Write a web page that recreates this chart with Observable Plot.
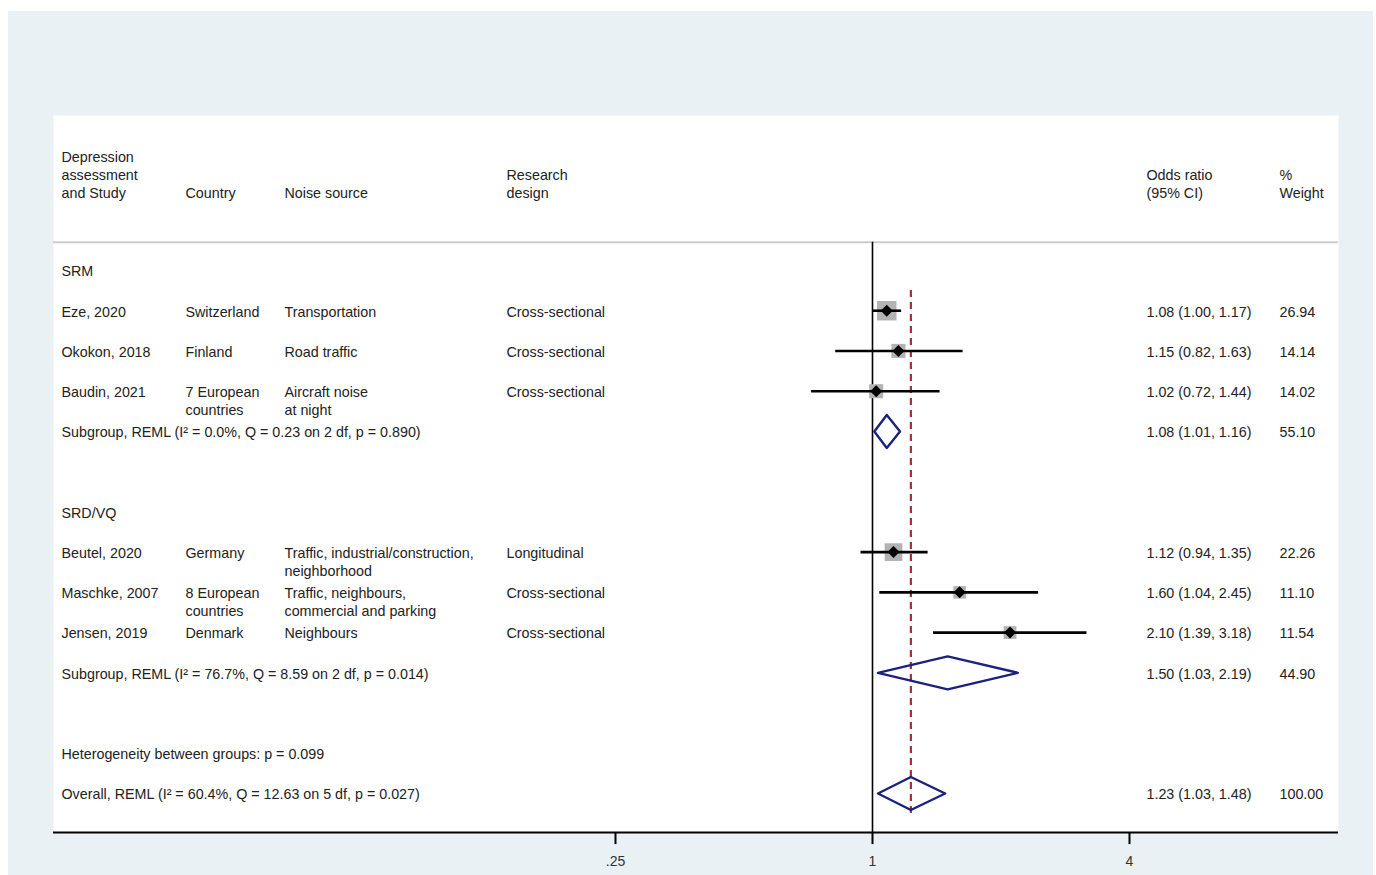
<!DOCTYPE html>
<html>
<head>
<meta charset="utf-8">
<script src="https://cdn.jsdelivr.net/npm/d3@7"></script>
<script src="https://cdn.jsdelivr.net/npm/@observablehq/plot@0.6"></script>
<style>
  html, body { margin: 0; padding: 0; background: #ffffff; }
  #chart { position: absolute; left: 8px; top: 11px; }
</style>
</head>
<body>
<div id="chart"></div>
<script>
// ---- Individual studies ----
const studies   = ["Eze, 2020", "Okokon, 2018", "Baudin, 2021", "Beutel, 2020", "Maschke, 2007", "Jensen, 2019"];
const countries = ["Switzerland", "Finland", "7 European\ncountries", "Germany", "8 European\ncountries", "Denmark"];
const sources   = ["Transportation", "Road traffic", "Aircraft noise\nat night",
                   "Traffic, industrial/construction,\nneighborhood",
                   "Traffic, neighbours,\ncommercial and parking", "Neighbours"];
const designs   = ["Cross-sectional", "Cross-sectional", "Cross-sectional", "Longitudinal", "Cross-sectional", "Cross-sectional"];
const oddsRatio = [1.08, 1.15, 1.02, 1.12, 1.60, 2.10];
const lowerCI   = [1.00, 0.82, 0.72, 0.94, 1.04, 1.39];
const upperCI   = [1.17, 1.63, 1.44, 1.35, 2.45, 3.18];
const weights   = [26.94, 14.14, 14.02, 22.26, 11.10, 11.54];
const studyRows = [1, 2, 3, 7, 8, 9];

// ---- Pooled estimates ----
const summaryLabels = [
  "Subgroup, REML (I\u00B2 = 0.0%, Q = 0.23 on 2 df, p = 0.890)",
  "Subgroup, REML (I\u00B2 = 76.7%, Q = 8.59 on 2 df, p = 0.014)",
  "Overall, REML (I\u00B2 = 60.4%, Q = 12.63 on 5 df, p = 0.027)"
];
const summaryOR      = [1.08, 1.50, 1.23];
const summaryLower   = [1.01, 1.03, 1.03];
const summaryUpper   = [1.16, 2.19, 1.48];
const summaryWeights = [55.10, 44.90, 100.00];
const summaryRows    = [4, 10, 13];

// ---- Group headings and notes ----
const groupLabels = ["SRM", "SRD/VQ"];
const groupRows   = [0, 6];
const noteLabels  = ["Heterogeneity between groups: p = 0.099"];
const noteRows    = [12];

// ---- Column headers and axis ticks ----
const headerLabels = ["Depression\nassessment\nand Study", "Country", "Noise source",
                      "Research\ndesign", "Odds ratio\n(95% CI)", "%\nWeight"];
const xTicks      = [0.25, 1, 4];
const xTickLabels = [".25", "1", "4"];

const fmt = d3.format(".2f");
const studyTable = studies.map((s, i) => ({
  study: s, country: countries[i], source: sources[i], design: designs[i],
  or: oddsRatio[i], lo: lowerCI[i], hi: upperCI[i], w: weights[i], row: studyRows[i]
}));
const summaryTable = summaryLabels.map((label, i) => ({
  label, or: summaryOR[i], lo: summaryLower[i], hi: summaryUpper[i], w: summaryWeights[i], row: summaryRows[i]
}));
const overall = summaryTable[summaryTable.length - 1];
const tickTable = xTicks.map((t, i) => ({t, label: xTickLabels[i]}));

// Diamond outlines for pooled estimates (half-height in row units)
const half = 0.41;
const diamonds = summaryTable.flatMap((s, k) => [
  {x: s.lo, y: s.row, k}, {x: s.or, y: s.row - half, k},
  {x: s.hi, y: s.row, k}, {x: s.or, y: s.row + half, k}
]);

// Column offsets from the left edge of the frame
const colOffsets = [8, 132, 231, 453, 1093, 1226];
const [cStudy, cCountry, cSource, cDesign, cOR, cWeight] = colOffsets;
const FS = 14.3, LH = 1.26, ROWDY = -7;
const HEADER_ROW = -1.94, SEP_ROW = -0.703, AXIS_ROW = 13.97;

const rowText = (data, text, dx) => Plot.text(data, {
  y: "row", text, frameAnchor: "left", dx, dy: ROWDY, textAnchor: "start",
  lineAnchor: "top", lineHeight: LH, fontSize: FS, fill: "#222"
});
const ciText = d => `${fmt(d.or)} (${fmt(d.lo)}, ${fmt(d.hi)})`;

// header labels, one mark per column, bottom-aligned on a common baseline
const headerMarks = headerLabels.map((h, i) => Plot.text([h], {
  y: () => HEADER_ROW, text: d => d, frameAnchor: "left", dx: colOffsets[i], dy: 5.8,
  textAnchor: "start", lineAnchor: "bottom", lineHeight: LH, fontSize: FS, fill: "#222"
}));

const chart = Plot.plot({
  width: 1365,
  height: 864,
  marginTop: 104,
  marginBottom: 43,
  marginLeft: 45,
  marginRight: 35,
  style: {background: "#e9f1f4", fontFamily: "'Liberation Sans', Arial, sans-serif", color: "#222"},
  x: {type: "log", domain: [Math.pow(2, -6.3735), Math.pow(2, 3.6265)], axis: null},
  y: {domain: [0, 13], range: [259, 782], axis: null},
  r: {type: "sqrt", domain: [0, 100], range: [0, 21.2]},
  marks: [
    Plot.frame({fill: "white", stroke: null}),
    // header separator
    Plot.ruleY([SEP_ROW], {stroke: "#cccccc", strokeWidth: 2}),
    ...headerMarks,
    // null line at OR = 1
    Plot.ruleX([1], {y1: SEP_ROW, y2: AXIS_ROW, stroke: "black", strokeWidth: 1.6}),
    // overall estimate
    Plot.ruleX([overall], {x: "or", y1: 0.5, y2: 13.5, stroke: "#a62f3c", strokeWidth: 2.2, strokeDasharray: "7,5"}),
    // weight squares
    Plot.dot(studyTable, {x: "or", y: "row", r: "w", symbol: "square", fill: "#b3b3b3", stroke: null}),
    // confidence intervals
    Plot.ruleY(studyTable, {y: "row", x1: "lo", x2: "hi", stroke: "black", strokeWidth: 2.6}),
    // point estimates
    Plot.dot(studyTable, {x: "or", y: "row", r: 5.4, symbol: "diamond2", fill: "black", stroke: null}),
    // pooled diamonds
    Plot.line(diamonds, {x: "x", y: "y", z: "k", curve: "linear-closed", stroke: "#1b2180", strokeWidth: 2.4, fill: "none"}),
    // row text
    rowText(studyTable, "study", cStudy),
    rowText(studyTable, "country", cCountry),
    rowText(studyTable, "source", cSource),
    rowText(studyTable, "design", cDesign),
    rowText(studyTable, ciText, cOR),
    rowText(studyTable, d => fmt(d.w), cWeight),
    rowText(summaryTable, "label", cStudy),
    rowText(summaryTable, ciText, cOR),
    rowText(summaryTable, d => fmt(d.w), cWeight),
    rowText(groupLabels.map((g, i) => ({g, row: groupRows[i]})), "g", cStudy),
    rowText(noteLabels.map((n, i) => ({n, row: noteRows[i]})), "n", cStudy),
    // x axis: baseline, ticks and labels
    Plot.ruleY([AXIS_ROW], {stroke: "black", strokeWidth: 2}),
    Plot.ruleX(tickTable, {x: "t", y1: AXIS_ROW, y2: AXIS_ROW + 0.3, stroke: "black", strokeWidth: 2}),
    Plot.text(tickTable, {x: "t", text: "label", frameAnchor: "bottom", dy: 33, fontSize: 14, fill: "#333"})
  ]
});

document.getElementById("chart").appendChild(chart);
</script>
</body>
</html>
